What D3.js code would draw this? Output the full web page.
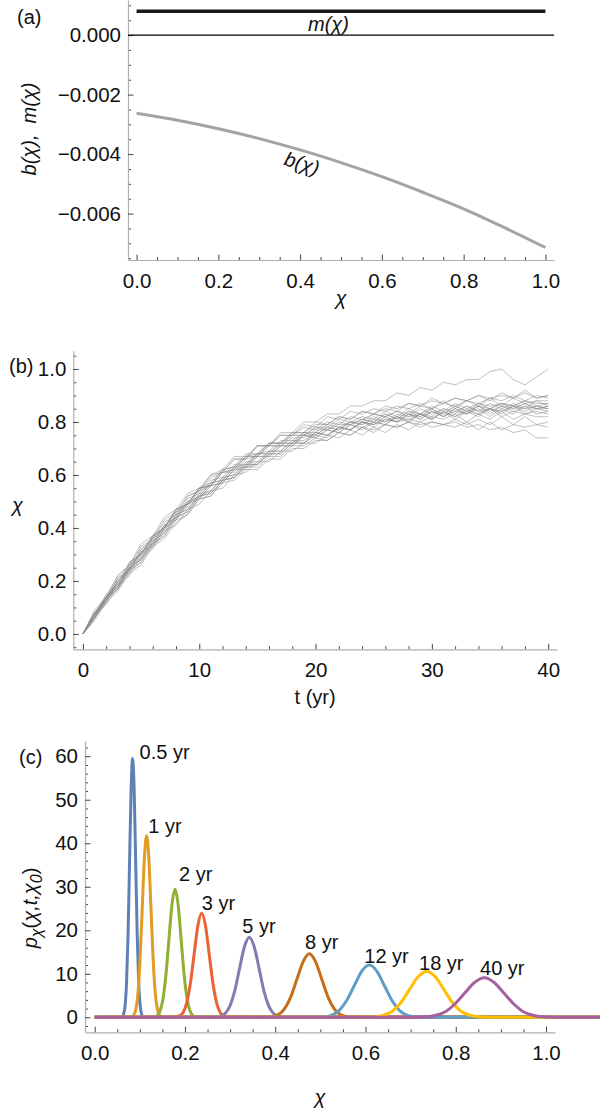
<!DOCTYPE html>
<html>
<head>
<meta charset="utf-8">
<script src="https://cdn.jsdelivr.net/npm/d3@7"></script>
<style>
    body { margin: 0; background: #fff; }
    svg { display: block; font-family: "Liberation Sans", Arial, sans-serif; }
    .domain { stroke: #b0b0b0; stroke-width: 1.2; }
    .tick line { stroke: #444; }
    .tick text { fill: #111; font-size: 20.5px; }
    .lbl { fill: #111; font-size: 20px; white-space: pre; }
    .it { font-style: italic; }
</style>
</head>
<body>
<svg id="chart" width="600" height="1113"></svg>
<script>
// ---------- panel (a): drift b(chi) and m(chi) ----------
var chiGrid = [0, 0.1, 0.2, 0.3, 0.4, 0.5, 0.6, 0.7, 0.8, 0.9, 1.0];
var bValues = [-0.00263, -0.002865, -0.003148, -0.003479, -0.00386, -0.004285,
               -0.00476, -0.005283, -0.00584, -0.006473, -0.00714];
var mChi = [0, 1];
var mValues = [0.0008, 0.0008];

// ---------- panel (b): sample paths, chi*100 at t = 0..40 yr ----------
var years = d3.range(0, 41);
var samplePaths = [
    [0,8,13,21,25,32,36,42,45,52, 54,59,61,66,66,71,71,76,76,80, 80,83,83,86,86,88,88,91,90,93, 92,95,94,96,96,99,100,96,94,97, 100],
    [0,6,13,17,24,27,34,37,43,45, 51,52,57,58,62,62,66,66,70,70, 73,73,76,75,78,77,79,78,80,79, 80,79,80,78,79,77,78,76,77,74, 74],
    [0,7,14,19,27,30,37,40,47,49, 55,57,62,63,67,68,72,72,76,76, 80,79,82,81,84,83,85,84,87,86, 88,87,89,88,90,88,91,89,91,89, 90],
    [0,8,13,21,24,32,35,41,44,51, 53,58,59,64,64,68,69,73,73,76, 76,79,78,80,80,83,82,84,83,86, 85,87,86,88,87,89,88,90,88,90, 89],
    [0,6,13,17,25,28,36,39,45,47, 53,54,59,60,65,65,69,69,73,73, 76,75,78,77,80,79,82,80,83,82, 84,83,86,84,87,85,87,86,88,87, 87],
    [0,7,12,20,24,31,33,40,43,49, 52,57,58,63,63,68,68,72,72,75, 75,78,77,80,79,82,80,83,82,83, 82,85,83,86,84,87,85,87,85,88, 86],
    [0,6,14,18,25,29,36,40,46,48, 54,56,61,61,66,67,71,71,74,74, 77,77,79,79,81,80,83,81,84,83, 85,83,86,84,86,85,87,85,87,85, 86],
    [0,8,13,20,24,31,34,41,44,50, 51,56,57,62,62,67,67,71,71,75, 74,77,76,79,77,80,79,82,80,83, 81,84,82,85,83,85,84,86,85,86, 85],
    [0,7,15,19,27,30,37,40,47,49, 55,56,61,62,67,67,71,71,75,75, 78,77,80,79,81,80,83,81,84,82, 85,82,85,83,86,83,86,84,86,85, 85],
    [0,6,12,19,23,30,33,40,43,49, 51,56,57,62,63,67,67,71,71,75, 74,77,76,79,78,80,79,82,80,83, 81,84,82,84,83,85,83,86,83,85, 84],
    [0,8,12,20,24,31,34,41,44,50, 52,57,58,63,64,68,68,72,72,76, 75,78,77,80,79,81,80,82,81,83, 81,84,81,84,82,85,82,84,83,84, 83],
    [0,7,14,17,25,28,35,38,45,47, 52,53,58,59,64,64,68,68,72,72, 75,74,78,77,80,78,81,80,81,80, 82,81,83,80,83,81,84,81,83,82, 82],
    [0,6,13,17,24,27,34,37,44,46, 52,53,58,59,63,63,67,67,71,71, 74,73,76,75,78,76,79,78,80,78, 80,79,81,79,81,79,82,79,82,79, 80],
    [0,7,11,18,22,29,32,39,41,47, 49,54,55,60,61,65,65,69,69,72, 72,75,74,77,75,78,76,79,77,80, 78,79,78,80,77,80,77,79,78,79, 78],
    [0,8,14,22,26,34,37,44,47,53, 55,60,62,67,67,71,71,75,75,79, 78,82,81,84,83,85,84,86,85,87, 85,88,85,88,86,89,86,89,87,88, 88],
    [0,7,14,18,26,30,37,40,47,49, 55,56,62,63,68,68,72,72,75,75, 78,78,81,80,82,81,84,82,85,83, 86,84,87,85,87,86,87,86,88,86, 87],
    [0,6,14,18,25,28,35,38,44,46, 52,54,59,60,64,64,69,69,73,72, 76,75,78,77,80,79,81,80,83,81, 84,82,85,83,86,84,86,85,87,85, 86],
    [0,9,14,22,26,33,36,43,46,52, 54,60,61,66,66,71,71,75,75,78, 77,80,79,82,81,83,82,84,82,85, 83,85,84,86,84,85,84,86,84,86, 85],
    [0,5,12,16,23,26,33,36,42,45, 51,52,58,59,63,64,68,68,72,72, 76,75,78,77,80,79,82,80,83,81, 84,82,84,83,85,82,85,83,86,83, 84],
    [0,7,14,18,26,30,37,40,46,49, 55,56,61,62,67,67,72,72,76,76, 79,79,82,81,84,83,86,85,87,86, 89,87,89,88,90,89,90,89,92,89, 90]
];

// ---------- panel (c): densities p(chi, t, chi0) ----------
var densityLabels = ["0.5 yr", "1 yr", "2 yr", "3 yr", "5 yr", "8 yr", "12 yr", "18 yr", "40 yr"];
var densityX = [
    [0, 0.0606,0.0639,0.0673,0.0706,0.0740,0.0773,0.0807,0.084,0.0874,0.0907,0.0941,0.0974,0.1008,0.1041,0.1075, 1.12],
    [0, 0.0815,0.0863,0.0911,0.0959,0.1006,0.1054,0.1102,0.115,0.1198,0.1246,0.1294,0.1341,0.1389,0.1437,0.1485, 1.12],
    [0, 0.1305,0.1373,0.1441,0.1509,0.1576,0.1644,0.1712,0.178,0.1848,0.1916,0.1984,0.2051,0.2119,0.2187,0.2255, 1.12],
    [0, 0.1786,0.1869,0.1953,0.2036,0.2120,0.2203,0.2287,0.237,0.2454,0.2537,0.2620,0.2704,0.2787,0.2871,0.2954, 1.12],
    [0, 0.2667,0.2776,0.2884,0.2992,0.3101,0.3209,0.3318,0.3426,0.3534,0.3643,0.3751,0.3860,0.3968,0.4076,0.4185, 1.12],
    [0, 0.3796,0.3933,0.4071,0.4208,0.4345,0.4482,0.4619,0.4756,0.4893,0.5030,0.5167,0.5304,0.5442,0.5579,0.5716, 1.12],
    [0, 0.4922,0.5088,0.5254,0.5420,0.5586,0.5753,0.5919,0.6085,0.6251,0.6417,0.6584,0.6750,0.6916,0.7082,0.7248, 1.12],
    [0, 0.6026,0.6216,0.6406,0.6596,0.6786,0.6976,0.7166,0.7356,0.7546,0.7736,0.7926,0.8116,0.8306,0.8496,0.8686, 1.12],
    [0, 0.7099,0.7318,0.7537,0.7756,0.7975,0.8195,0.8414,0.8633,0.8852,0.9071,0.9291,0.9510,0.9729,0.9948,1.0167, 1.12]
];
var densityY = [
    [0, 0.1,0.7,2.6,8.1,19.3,36.1,52.5,59.5,52.5,36.1,19.3,8.1,2.6,0.7,0.1, 0],
    [0, 0.1,0.5,1.8,5.6,13.5,25.3,36.8,41.7,36.8,25.3,13.5,5.6,1.8,0.5,0.1, 0],
    [0, 0.1,0.3,1.3,4.0,9.5,17.8,25.9,29.4,25.9,17.8,9.5,4.0,1.3,0.3,0.1, 0],
    [0, 0.1,0.3,1.0,3.2,7.8,14.5,21.1,23.9,21.1,14.5,7.8,3.2,1.0,0.3,0.1, 0],
    [0, 0.0,0.2,0.8,2.5,6.0,11.2,16.2,18.4,16.2,11.2,6.0,2.5,0.8,0.2,0.0, 0],
    [0, 0.0,0.2,0.6,2.0,4.7,8.8,12.8,14.6,12.8,8.8,4.7,2.0,0.6,0.2,0.0, 0],
    [0, 0.0,0.1,0.5,1.6,3.9,7.3,10.6,12.0,10.6,7.3,3.9,1.6,0.5,0.1,0.0, 0],
    [0, 0.0,0.1,0.5,1.4,3.4,6.4,9.3,10.5,9.3,6.4,3.4,1.4,0.5,0.1,0.0, 0],
    [0, 0.0,0.1,0.4,1.2,3.0,5.5,8.0,9.1,8.0,5.5,3.0,1.2,0.4,0.1,0.0, 0]
];
// label anchors (left x, baseline y) in data units
var densityLabelX = [0.0993, 0.1188, 0.1868, 0.2371, 0.3271, 0.466, 0.5974, 0.7186, 0.8538];
var densityLabelY = [59.4, 42.4, 31.4, 24.7, 19.4, 15.6, 12.4, 10.9, 9.7];
var palette = ["#5e81b5", "#e19c24", "#8fb032", "#eb6235", "#8778b3",
               "#c56e1a", "#5d9ec7", "#ffbf00", "#a5609d"];

var svg = d3.select("#chart");

function everyMinor(step, from, to, every) {
    return d3.range(from, to + 1).filter(function (i) {
        return i % every !== 0;
    }).map(function (i) { return +(i * step).toFixed(6); });
}

// Axes with inward ticks, Mathematica style.
function drawAxes(x, y, cfg) {
    var bottom = y.range()[0];
    var left = x.range()[0];

    svg.append("g").attr("transform", "translate(0," + bottom + ")")
        .call(d3.axisBottom(x).tickValues(cfg.xMinor).tickSize(-3).tickSizeOuter(0).tickFormat(""))
        .select(".domain").remove();
    svg.append("g").attr("transform", "translate(0," + bottom + ")")
        .call(d3.axisBottom(x).tickValues(cfg.xMajor).tickSize(-5.5).tickSizeOuter(0)
            .tickPadding(cfg.xPad).tickFormat(cfg.xFormat));

    svg.append("g").attr("transform", "translate(" + left + ",0)")
        .call(d3.axisLeft(y).tickValues(cfg.yMinor).tickSize(-3).tickSizeOuter(0).tickFormat(""))
        .select(".domain").remove();
    svg.append("g").attr("transform", "translate(" + left + ",0)")
        .call(d3.axisLeft(y).tickValues(cfg.yMajor).tickSize(-5.5).tickSizeOuter(0)
            .tickPadding(7).tickFormat(cfg.yFormat));
}

// ===== panel (a) =====
var xA = d3.scaleLinear().domain([-0.021, 1.021]).range([128, 554]);
var yA = d3.scaleLinear().domain([-0.00756, 0.00118]).range([260, 0]);

drawAxes(xA, yA, {
    xMajor: [0, 0.2, 0.4, 0.6, 0.8, 1.0], xMinor: everyMinor(0.05, 0, 20, 4),
    xFormat: d3.format(".1f"), xPad: 13,
    yMajor: [-0.006, -0.004, -0.002, 0], yMinor: everyMinor(0.0005, -15, 2, 4),
    yFormat: d3.format(".3f")
});

svg.append("line")
    .attr("x1", xA.range()[0]).attr("x2", xA.range()[1])
    .attr("y1", yA(0)).attr("y2", yA(0))
    .attr("stroke", "#000").attr("stroke-width", 1.1);

var lineA = d3.line()
    .x(function (d) { return xA(d[0]); })
    .y(function (d) { return yA(d[1]); })
    .curve(d3.curveMonotoneX);

svg.append("path")
    .datum(d3.zip(mChi, mValues))
    .attr("d", lineA).attr("fill", "none")
    .attr("stroke", "#1a1a1a").attr("stroke-width", 3.4);

svg.append("path")
    .datum(d3.zip(chiGrid, bValues))
    .attr("d", lineA).attr("fill", "none")
    .attr("stroke", "#a3a3a3").attr("stroke-width", 3);

svg.append("text").attr("class", "lbl it").attr("x", 308).attr("y", 31)
    .attr("font-size", 17).text("m(χ)");
svg.append("text").attr("class", "lbl it")
    .attr("transform", "translate(300,170) rotate(17)")
    .attr("text-anchor", "middle").attr("font-size", 17).text("b(χ)");

svg.append("text").attr("class", "lbl").attr("x", 17).attr("y", 24).text("(a)");
svg.append("text").attr("class", "lbl it")
    .attr("transform", "translate(36,129) rotate(-90)")
    .attr("text-anchor", "middle").attr("font-size", 23.5)
    .text("b(χ),  m(χ)");
svg.append("text").attr("class", "lbl it")
    .attr("x", (xA.range()[0] + xA.range()[1]) / 2).attr("y", 305)
    .attr("text-anchor", "middle").attr("font-size", 22).text("χ");

// ===== panel (b) =====
var xB = d3.scaleLinear().domain([-0.83, 40.76]).range([73.3, 557]);
var yB = d3.scaleLinear().domain([-0.058, 1.069]).range([649.3, 350.7]);

drawAxes(xB, yB, {
    xMajor: [0, 10, 20, 30, 40], xMinor: everyMinor(2, 0, 20, 5),
    xFormat: d3.format("d"), xPad: 13,
    yMajor: [0, 0.2, 0.4, 0.6, 0.8, 1.0], yMinor: everyMinor(0.05, -1, 21, 4),
    yFormat: d3.format(".1f")
});

var lineB = d3.line()
    .x(function (d) { return xB(d[0]); })
    .y(function (d) { return yB(d[1] / 100); });

svg.append("g").selectAll("path")
    .data(samplePaths)
    .join("path")
    .attr("d", function (p) { return lineB(d3.zip(years, p)); })
    .attr("fill", "none")
    .attr("stroke", "#8c8c8c").attr("stroke-opacity", 0.6)
    .attr("stroke-width", 0.9);

svg.append("text").attr("class", "lbl").attr("x", 9).attr("y", 373).text("(b)");
svg.append("text").attr("class", "lbl it").attr("x", 12).attr("y", 512)
    .attr("font-size", 22).text("χ");
svg.append("text").attr("class", "lbl")
    .attr("x", (xB.range()[0] + xB.range()[1]) / 2).attr("y", 704)
    .attr("text-anchor", "middle").attr("font-size", 20).text("t (yr)");

// ===== panel (c) =====
var xC = d3.scaleLinear().domain([-0.0215, 1.0199]).range([85, 555]);
var yC = d3.scaleLinear().domain([-3.45, 63.5]).range([1032.3, 741]);

drawAxes(xC, yC, {
    xMajor: [0, 0.2, 0.4, 0.6, 0.8, 1.0], xMinor: everyMinor(0.05, 1, 19, 4),
    xFormat: d3.format(".1f"), xPad: 13,
    yMajor: [0, 10, 20, 30, 40, 50, 60], yMinor: everyMinor(2, -1, 31, 5),
    yFormat: d3.format("d")
});

var lineC = d3.line()
    .x(function (d) { return xC(d[0]); })
    .y(function (d) { return yC(d[1]); })
    .curve(d3.curveMonotoneX);

svg.append("g").selectAll("path")
    .data(densityX)
    .join("path")
    .attr("d", function (xs, i) { return lineC(d3.zip(xs, densityY[i])); })
    .attr("fill", "none")
    .attr("stroke", function (xs, i) { return palette[i]; })
    .attr("stroke-width", 3)
    .attr("stroke-linejoin", "round");

svg.append("g").selectAll("text")
    .data(densityLabels)
    .join("text")
    .attr("class", "lbl")
    .attr("font-size", 17.5)
    .attr("x", function (d, i) { return xC(densityLabelX[i]); })
    .attr("y", function (d, i) { return yC(densityLabelY[i]); })
    .text(function (d) { return d; });

svg.append("text").attr("class", "lbl").attr("x", 19).attr("y", 764).text("(c)");

var pLabel = svg.append("text").attr("class", "lbl")
    .attr("transform", "translate(37,908) rotate(-90)")
    .attr("text-anchor", "middle").attr("font-size", 23);
pLabel.append("tspan").attr("class", "it").text("p");
pLabel.append("tspan").attr("class", "it").attr("font-size", 16).attr("dy", 5).text("χ");
pLabel.append("tspan").attr("dy", -5).text("(");
pLabel.append("tspan").attr("class", "it").text("χ,t,χ");
pLabel.append("tspan").attr("class", "it").attr("font-size", 16).attr("dy", 5).text("0");
pLabel.append("tspan").attr("dy", -5).text(")");

svg.append("text").attr("class", "lbl it")
    .attr("x", (xC.range()[0] + xC.range()[1]) / 2).attr("y", 1104)
    .attr("text-anchor", "middle").attr("font-size", 22).text("χ");
</script>
</body>
</html>
